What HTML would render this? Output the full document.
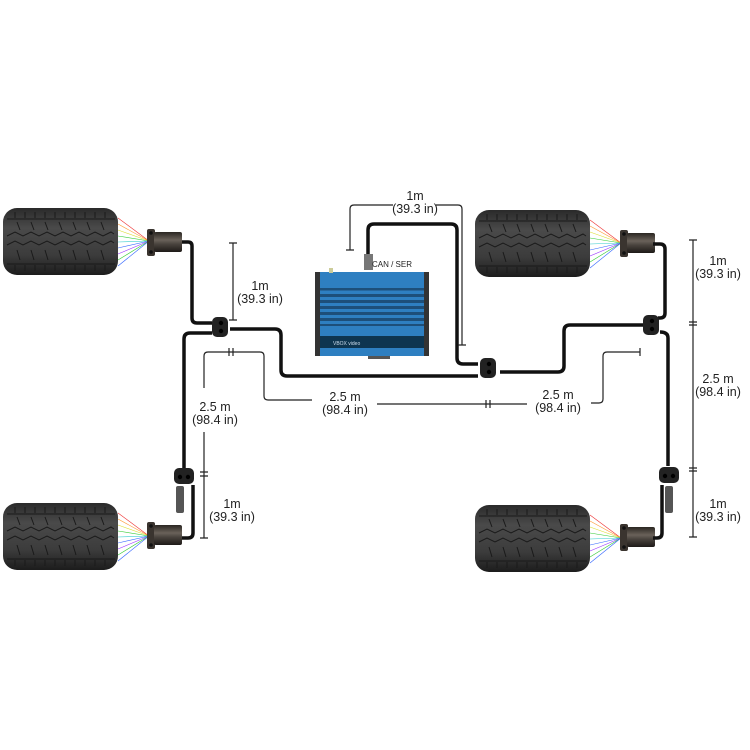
<!DOCTYPE html>
<html><head><meta charset="utf-8"><style>
html,body{margin:0;padding:0;background:#fff}
svg{display:block}
text{font-family:"Liberation Sans",sans-serif;font-size:12.5px;fill:#222;text-anchor:middle}
</style></head><body>
<svg width="750" height="750" viewBox="0 0 750 750" xmlns="http://www.w3.org/2000/svg">
<defs>
<linearGradient id="tg" x1="0" y1="0" x2="0" y2="1">
<stop offset="0" stop-color="#2a2a2a"/><stop offset="0.3" stop-color="#4a4a4a"/><stop offset="0.7" stop-color="#3c3c3c"/><stop offset="1" stop-color="#1c1c1c"/></linearGradient>
<linearGradient id="sg" x1="0" y1="0" x2="0" y2="1">
<stop offset="0" stop-color="#2a2622"/><stop offset="0.4" stop-color="#6a625a"/><stop offset="0.6" stop-color="#4a443e"/><stop offset="1" stop-color="#1e1a18"/></linearGradient>
<g id="tire">
<rect x="0" y="0" width="115" height="67" rx="14" fill="url(#tg)"/>
<g stroke="#1a1a1a" stroke-width="1" fill="none">
<path d="M4 11 H112 M4 56 H112"/>
<path d="M4 28 l8 -4 8 4 8 -4 8 4 8 -4 8 4 8 -4 8 4 8 -4 8 4 8 -4 8 4 8 -4 3 2"/>
<path d="M4 37 l8 -4 8 4 8 -4 8 4 8 -4 8 4 8 -4 8 4 8 -4 8 4 8 -4 8 4 8 -4 3 2"/>
<path d="M12 4v6M22 4v6M32 4v6M42 4v6M52 4v6M62 4v6M72 4v6M82 4v6M92 4v6M102 4v6"/>
<path d="M12 57v6M22 57v6M32 57v6M42 57v6M52 57v6M62 57v6M72 57v6M82 57v6M92 57v6M102 57v6"/>
<path d="M14 14l3 8M28 14l3 8M42 14l3 8M56 14l3 8M70 14l3 8M84 14l3 8M98 14l3 8"/>
<path d="M14 42l3 10M28 42l3 10M42 42l3 10M56 42l3 10M70 42l3 10M84 42l3 10M98 42l3 10"/>
</g>
<g stroke-width="0.6">
<path d="M115 10L146 33" stroke="#e33"/><path d="M115 16L146 33" stroke="#f93"/><path d="M115 22L146 33" stroke="#dd3"/><path d="M115 28L146 33" stroke="#3c3"/><path d="M115 34L146 33" stroke="#3cc"/><path d="M115 40L146 33" stroke="#36f"/><path d="M115 46L146 33" stroke="#93f"/><path d="M115 52L146 33" stroke="#3c3"/><path d="M115 58L146 33" stroke="#36f"/>
</g>
</g>
<g id="sensor">
<rect x="0" y="0" width="8" height="27" rx="2" fill="#3a342f"/>
<rect x="7" y="3" width="28" height="20" rx="2" fill="url(#sg)"/>
<circle cx="4" cy="4" r="1.8" fill="#111"/><circle cx="4" cy="23" r="1.8" fill="#111"/>
</g>
<g id="split">
<rect x="0" y="0" width="16" height="20" rx="5" fill="#222"/>
<circle cx="9" cy="6" r="2.2" fill="#000"/><circle cx="9" cy="14" r="2.2" fill="#000"/>
</g>
</defs>

<use href="#tire" x="3" y="208"/>
<use href="#sensor" x="147" y="229"/>
<use href="#tire" x="475" y="210"/>
<use href="#sensor" x="620" y="230"/>
<use href="#tire" x="3" y="503"/>
<use href="#sensor" x="147" y="522"/>
<use href="#tire" x="475" y="505"/>
<use href="#sensor" x="620" y="524"/>

<g fill="none" stroke="#111" stroke-width="3.5" stroke-linejoin="round">
<path d="M182 242 H188 Q192 242 192 246 V318 Q192 323 197 323 H212"/>
<path d="M230 329 H275 Q281 329 281 335 V370 Q281 376 287 376 H478"/>
<path d="M212 333 H190 Q184 333 184 339 V468"/>
<path d="M478 364 H463 Q457 364 457 358 V230 Q457 224 451 224 H374 Q368 224 368 230 V255"/>
<path d="M500 372 H558 Q564 372 564 366 V331 Q564 325 570 325 H643"/>
<path d="M653 244 H660 Q665 244 665 249 V313 Q665 318 660 318 H658"/>
<path d="M660 332 Q668 332 668 338 V466"/>
<path d="M662 485 V533 Q662 538 657 538 H653"/>
<path d="M193 485 V533 Q193 538 188 538 H182"/>
</g>
<use href="#split" x="212" y="317"/>
<use href="#split" x="480" y="358"/>
<use href="#split" x="643" y="315"/>
<use href="#split" x="175" y="467" transform="rotate(90 184 477)"/>
<use href="#split" x="660" y="466" transform="rotate(90 669 476)"/>
<rect x="176" y="486" width="8" height="27" rx="2" fill="#555"/>
<rect x="665" y="486" width="8" height="27" rx="2" fill="#555"/>
<rect x="364" y="254" width="9" height="16" fill="#777"/>

<rect x="315" y="272" width="114" height="84" rx="3" fill="#2e7fc1"/>
<rect x="315" y="272" width="5" height="84" fill="#333"/>
<rect x="424" y="272" width="5" height="84" fill="#333"/>
<g fill="#1d4f7a"><rect x="320" y="288" width="104" height="2.5"/><rect x="320" y="294" width="104" height="3"/><rect x="320" y="300" width="104" height="3"/><rect x="320" y="306" width="104" height="3"/><rect x="320" y="312" width="104" height="3"/><rect x="320" y="318" width="104" height="3"/><rect x="320" y="324" width="104" height="2"/></g>
<rect x="320" y="336" width="104" height="12" fill="#0e3550"/>
<text x="333" y="345" style="font-size:5px;fill:#cde;text-anchor:start">VBOX video</text>
<rect x="368" y="356" width="22" height="3" fill="#555"/>
<rect x="329" y="268" width="4" height="5" fill="#cc9"/>
<text x="392" y="267" style="font-size:8px">CAN / SER</text>

<g fill="none" stroke="#222" stroke-width="1.2">
<path d="M233 243 V320 M229 243 H237 M229 320 H237"/>
<path d="M350 250 V209 Q350 205 354 205 H393 M436 205 H458 Q462 205 462 209 V345 M346 250 H354 M458 345 H466"/>
<path d="M204 388 V356 Q204 352 208 352 H260 Q264 352 264 356 V396 Q264 400 268 400 H312 M377 404 H527 M591 403 H599 Q603 403 603 399 V356 Q603 352 607 352 H640 M640 348 V356"/>
<path d="M229 348 V356 M233 348 V356"/>
<path d="M204 432 V538 M200 472 H208 M200 476 H208 M200 538 H208"/>
<path d="M486 400 V408 M490 400 V408"/>
<path d="M693 240 V537 M689 240 H697 M689 322 H697 M689 325 H697 M689 468 H697 M689 471 H697 M689 537 H697"/>
</g>
<text x="260" y="290">1m</text><text x="260" y="303">(39.3 in)</text>
<text x="415" y="200">1m</text><text x="415" y="213">(39.3 in)</text>
<text x="215" y="411">2.5 m</text><text x="215" y="424">(98.4 in)</text>
<text x="232" y="508">1m</text><text x="232" y="521">(39.3 in)</text>
<text x="345" y="401">2.5 m</text><text x="345" y="414">(98.4 in)</text>
<text x="558" y="399">2.5 m</text><text x="558" y="412">(98.4 in)</text>
<text x="718" y="265">1m</text><text x="718" y="278">(39.3 in)</text>
<text x="718" y="383">2.5 m</text><text x="718" y="396">(98.4 in)</text>
<text x="718" y="508">1m</text><text x="718" y="521">(39.3 in)</text>
</svg>
</body></html>
